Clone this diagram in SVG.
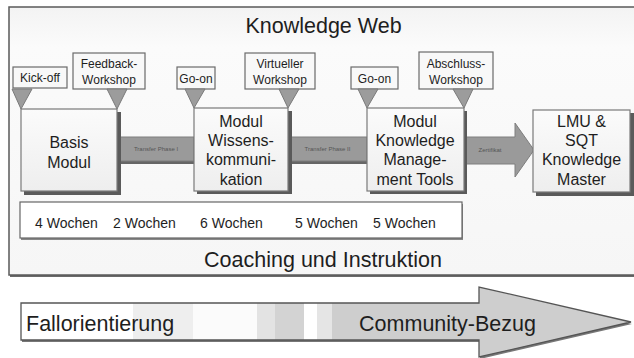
<svg xmlns="http://www.w3.org/2000/svg" width="634" height="358" viewBox="0 0 634 358">
  <defs>
    <linearGradient id="frameFill" x1="0" y1="0" x2="0" y2="1">
      <stop offset="0" stop-color="#f3f3f3"/>
      <stop offset="0.15" stop-color="#fbfbfb"/>
      <stop offset="1" stop-color="#f6f6f6"/>
    </linearGradient>
    <linearGradient id="boxFill" x1="0" y1="0" x2="0" y2="1">
      <stop offset="0" stop-color="#fbfbfb"/>
      <stop offset="1" stop-color="#eeeeee"/>
    </linearGradient>
    <linearGradient id="bandFill" gradientUnits="userSpaceOnUse" x1="21" y1="0" x2="631" y2="0">
      <stop offset="0.184" stop-color="#ffffff"/>
      <stop offset="0.184" stop-color="#eeeeee"/>
      <stop offset="0.282" stop-color="#eeeeee"/>
      <stop offset="0.282" stop-color="#fbfbfb"/>
      <stop offset="0.387" stop-color="#fbfbfb"/>
      <stop offset="0.387" stop-color="#e3e3e3"/>
      <stop offset="0.416" stop-color="#e3e3e3"/>
      <stop offset="0.416" stop-color="#d3d3d3"/>
      <stop offset="0.464" stop-color="#d3d3d3"/>
      <stop offset="0.464" stop-color="#ffffff"/>
      <stop offset="0.485" stop-color="#ffffff"/>
      <stop offset="0.485" stop-color="#e5e5e5"/>
      <stop offset="0.510" stop-color="#e5e5e5"/>
      <stop offset="0.510" stop-color="#cecece"/>
      <stop offset="1" stop-color="#cecece"/>
    </linearGradient>
  </defs>
  <style>
    text { font-family: "Liberation Sans", Arial, sans-serif; fill: #1e1e1e; text-anchor: middle; }
    .big { font-size: 21.5px; }
    .mod { font-size: 16px; }
    .lbl { font-size: 12px; }
    .wk { font-size: 14px; text-anchor: start; }
    .tiny { font-size: 6px; fill: #555; }
    .shadow { fill: #5a5a5a; }
    .box { fill: url(#boxFill); stroke: #7a7a7a; stroke-width: 1.2; }
    .tag { fill: #f8f8f8; stroke: #6a6a6a; stroke-width: 1.2; }
    .pin { fill: #9c9c9c; stroke: #7a7a7a; stroke-width: 1; }
    .bar { fill: #9a9a9a; stroke: #7e7e7e; stroke-width: 1; }
  </style>

  <!-- outer frame -->
  <g id="frame">
    <rect x="10" y="9" width="630" height="268" fill="#6a6a6a"/>
    <rect x="9" y="7" width="630" height="268" fill="url(#frameFill)" stroke="#5a5a5a" stroke-width="1.5"/>
    <text class="big" x="323.5" y="33">Knowledge Web</text>
    <text class="big" x="323" y="267">Coaching und Instruktion</text>
  </g>

  <!-- connectors between modules -->
  <g id="connectors">
    <rect x="118" y="139" width="76" height="25" fill="#666"/>
    <rect class="bar" x="118" y="137" width="76" height="24"/>
    <text class="tiny" x="156" y="151">Transfer Phase I</text>
    <rect x="288" y="139" width="79" height="25" fill="#666"/>
    <rect class="bar" x="288" y="137" width="79" height="24"/>
    <text class="tiny" x="327.5" y="151">Transfer Phase II</text>
    <polygon points="464,137 515,137 515,123 534,150 515,177 515,164 464,164" class="bar" stroke="#777"/>
    <text class="tiny" x="490" y="152">Zertifikat</text>
  </g>

  <!-- modules -->
  <g id="basis">
    <rect class="shadow" x="24" y="112" width="97" height="83"/>
    <rect class="box" x="21" y="109" width="96" height="82"/>
    <text class="mod" x="69" y="148">Basis</text>
    <text class="mod" x="69" y="168">Modul</text>
  </g>
  <g id="wissenskommunikation">
    <rect class="shadow" x="197" y="111" width="95" height="83"/>
    <rect class="box" x="194" y="108" width="94" height="83"/>
    <text class="mod" x="241" y="127">Modul</text>
    <text class="mod" x="241" y="146">Wissens-</text>
    <text class="mod" x="241" y="165">kommuni-</text>
    <text class="mod" x="241" y="185">kation</text>
  </g>
  <g id="km-tools">
    <rect class="shadow" x="370" y="111" width="97" height="83"/>
    <rect class="box" x="367" y="108" width="97" height="83"/>
    <text class="mod" x="415" y="127">Modul</text>
    <text class="mod" x="415" y="146">Knowledge</text>
    <text class="mod" x="415" y="165">Manage-</text>
    <text class="mod" x="415" y="185">ment Tools</text>
  </g>
  <g id="knowledge-master">
    <rect class="shadow" x="536" y="113" width="98" height="83"/>
    <rect class="box" x="533" y="110" width="97" height="82"/>
    <text class="mod" x="581.5" y="127">LMU &amp;</text>
    <text class="mod" x="581.5" y="146">SQT</text>
    <text class="mod" x="581.5" y="165">Knowledge</text>
    <text class="mod" x="581.5" y="185">Master</text>
  </g>

  <!-- event markers -->
  <g id="kick-off">
    <rect class="tag" x="13" y="67" width="54" height="21"/>
    <text class="lbl" x="40" y="82">Kick-off</text>
    <polygon class="pin" points="12,89 32,89 21,109"/>
  </g>
  <g id="feedback-workshop">
    <rect class="tag" x="73" y="53" width="72" height="36"/>
    <text class="lbl" x="109" y="68">Feedback-</text>
    <text class="lbl" x="109" y="84">Workshop</text>
    <polygon class="pin" points="107,89 127,89 117,109"/>
  </g>
  <g id="go-on-1">
    <rect class="tag" x="177" y="67" width="38" height="22"/>
    <text class="lbl" x="196" y="83">Go-on</text>
    <polygon class="pin" points="185,89 205,89 194,108"/>
  </g>
  <g id="virtueller-workshop">
    <rect class="tag" x="245" y="53" width="70" height="36"/>
    <text class="lbl" x="280" y="68">Virtueller</text>
    <text class="lbl" x="280" y="84">Workshop</text>
    <polygon class="pin" points="279,89 299,89 288,108"/>
  </g>
  <g id="go-on-2">
    <rect class="tag" x="351" y="67" width="47" height="22"/>
    <text class="lbl" x="374.5" y="83">Go-on</text>
    <polygon class="pin" points="358,89 378,89 367,108"/>
  </g>
  <g id="abschluss-workshop">
    <rect class="tag" x="419" y="52" width="74" height="37"/>
    <text class="lbl" x="456" y="68">Abschluss-</text>
    <text class="lbl" x="456" y="84">Workshop</text>
    <polygon class="pin" points="453,89 473,89 464,108"/>
  </g>

  <!-- durations -->
  <g id="durations">
    <rect x="21" y="204" width="442" height="36" fill="#888"/>
    <rect x="20" y="202" width="442" height="36" fill="#ffffff" stroke="#666" stroke-width="1.2"/>
    <text class="wk" x="35" y="228">4 Wochen</text>
    <text class="wk" x="113" y="228">2 Wochen</text>
    <text class="wk" x="200" y="228">6 Wochen</text>
    <text class="wk" x="295" y="228">5 Wochen</text>
    <text class="wk" x="373" y="228">5 Wochen</text>
  </g>

  <!-- orientation band -->
  <g id="orientation">
    <polygon points="22,305 480,305 480,289 632,324 480,359 480,342 22,342" fill="#777"/>
    <polygon points="21,303 479,303 479,287 631,322 479,357 479,340 21,340" fill="url(#bandFill)" stroke="#555" stroke-width="1.3"/>
    <text class="big" x="26" y="331" style="text-anchor:start">Fallorientierung</text>
    <text class="big" x="447.5" y="331">Community-Bezug</text>
  </g>
</svg>
